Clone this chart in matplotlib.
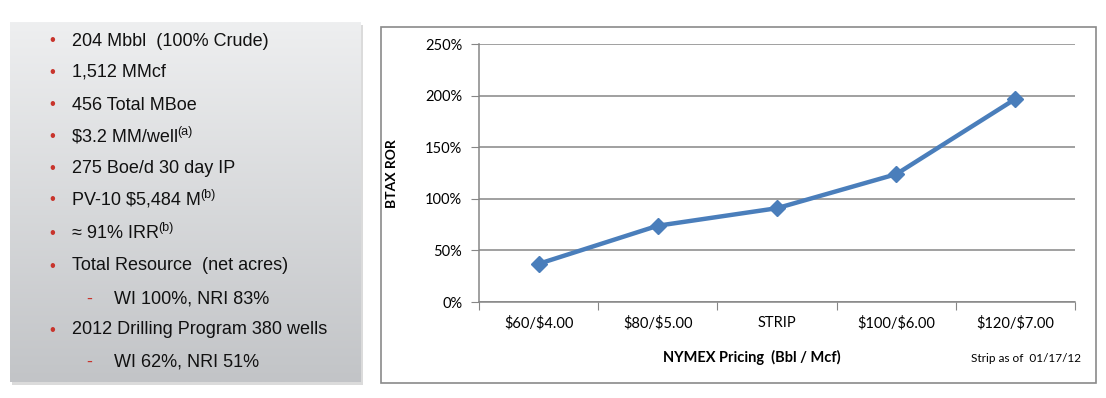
import numpy as np
import matplotlib.pyplot as plt
from matplotlib.patches import Rectangle

plt.rcParams['text.parse_math'] = False

categories = ['$60/$4.00', '$80/$5.00', 'STRIP', '$100/$6.00', '$120/$7.00']
ror = [37, 74, 91, 124, 197]
yticks = [0, 50, 100, 150, 200, 250]

# (main text, superscript, indent level)
bullets = [
    ('204 Mbbl  (100% Crude)', '', 0),
    ('1,512 MMcf', '', 0),
    ('456 Total MBoe', '', 0),
    ('$3.2 MM/well', '(a)', 0),
    ('275 Boe/d 30 day IP', '', 0),
    ('PV-10 $5,484 M', '(b)', 0),
    ('\u2248 91% IRR', '(b)', 0),
    ('Total Resource  (net acres)', '', 0),
    ('WI 100%, NRI 83%', '', 1),
    ('2012 Drilling Program 380 wells', '', 0),
    ('WI 62%, NRI 51%', '', 1),
]
line_y = [41, 72, 105, 137, 168, 200, 233, 266, 299, 330, 362]

W, H = 1106, 398
fig = plt.figure(figsize=(W / 100, H / 100), dpi=100)


def fx(px):
    return px / W


def fy(py):
    return 1 - py / H


# left panel with gradient and shadow
shadow = Rectangle((fx(12), fy(385)), fx(351), 360 / H, transform=fig.transFigure,
                   facecolor='#c4c4c4', edgecolor='none', alpha=0.6, zorder=-2)
fig.patches.append(shadow)
pax = fig.add_axes([fx(10), fy(382), fx(351), 360 / H])
grad = np.linspace(0, 1, 256).reshape(-1, 1)
top = np.array([0xee, 0xef, 0xf0]) / 255
bot = np.array([0xc2, 0xc4, 0xc7]) / 255
img = top + (bot - top) * grad[:, :, None]
pax.imshow(img, aspect='auto', extent=[0, 1, 0, 1])
pax.set_axis_off()

fig.canvas.draw()
renderer = fig.canvas.get_renderer()
red = '#c8342c'
for (txt, sup, lvl), y in zip(bullets, line_y):
    if lvl == 0:
        fig.text(fx(52), fy(y), '\u2022', color=red, fontsize=12,
                 ha='center', va='center', family='Liberation Sans')
        tx = 72
    else:
        fig.text(fx(89), fy(y), '-', color=red, fontsize=13,
                 ha='center', va='center', family='Liberation Sans')
        tx = 114
    t = fig.text(fx(tx), fy(y), txt, color='#111111', fontsize=13,
                 ha='left', va='center', family='Liberation Sans')
    if sup:
        bb = t.get_window_extent(renderer)
        fig.text(bb.x1 / W - fx(1), fy(y - 5), sup, color='#111111', fontsize=9,
                 ha='left', va='center', family='Liberation Sans')

# chart border
border = Rectangle((fx(381), fy(383)), fx(715), 356 / H, transform=fig.transFigure,
                   facecolor='white', edgecolor='#8a8a8a', lw=1.2, zorder=-1)
fig.patches.append(border)

ax = fig.add_axes([fx(479), fy(302), fx(596), (302 - 44.3) / H])
ax.patch.set_alpha(0)
x = np.arange(len(categories)) + 0.5
ax.plot(x, ror, color='#4a7ebb', lw=3.2, marker='D', markersize=8.5, zorder=3)
ax.set_xlim(0, len(categories))
ax.set_ylim(0, 250)
ax.set_yticks(yticks)
ax.set_yticklabels([f'{v}%' for v in yticks], family='Lato', fontsize=10.5)
ax.set_xticks(np.arange(len(categories) + 1))
ax.set_xticklabels([])
ax.set_xticks(x, minor=True)
ax.set_xticklabels(categories, minor=True, family='Lato', fontsize=10.5)
ax.tick_params(axis='x', which='major', length=6, color='#868686', direction='out')
ax.tick_params(axis='x', which='minor', length=0, pad=10)
ax.tick_params(axis='y', length=6, color='#868686', pad=6)
ax.grid(axis='y', color='#868686', lw=1.1)
ax.set_axisbelow(True)
for s in ['top', 'right']:
    ax.spines[s].set_visible(False)
for s in ['left', 'bottom']:
    ax.spines[s].set_color('#868686')
    ax.spines[s].set_linewidth(1.1)
ax.set_ylabel('BTAX ROR', family='Lato', fontsize=10, fontweight='bold')
ax.yaxis.set_label_coords(-0.136, 0.5)

fig.text(fx(752), fy(357), 'NYMEX Pricing  (Bbl / Mcf)', family='Lato',
         fontsize=10.5, fontweight='bold', ha='center', va='center')
fig.text(fx(1081), fy(359), 'Strip as of  01/17/12', family='Lato',
         fontsize=8.5, ha='right', va='center')

fig.savefig('out.png', dpi=100)
